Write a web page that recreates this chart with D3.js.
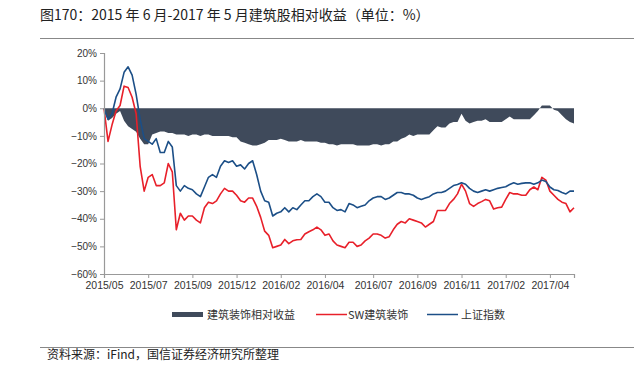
<!DOCTYPE html>
<html>
<head>
<meta charset="utf-8">
<script src="https://cdn.jsdelivr.net/npm/d3@7"></script>
<style>
  html, body { margin: 0; padding: 0; background: #fff; }
  svg { display: block; }
</style>
</head>
<body>
<svg id="chart" width="634" height="367"></svg>
<script>
// ---------------- DATA ----------------
const titleText = "图170：2015 年 6 月-2017 年 5 月建筑股相对收益（单位：%）";
const sourceText = "资料来源：iFind，国信证券经济研究所整理";
const seriesNames = ["建筑装饰相对收益", "SW建筑装饰", "上证指数"];
const xTickLabels = ["2015/05","2015/07","2015/09","2015/12","2016/02","2016/04","2016/07","2016/09","2016/11","2017/02","2017/04"];
const xTickIndex = [0, 11, 22, 33, 44, 55, 67, 78, 89, 100, 111];
const yTickValues = [20, 10, 0, -10, -20, -30, -40, -50, -60];

// 上证指数 cumulative return (%)
const shIndex = [
  0, -4, -2, 4, 7, 13, 15, 12, 5, -4,
  -11, -12, -13, -11, -16, -16, -12, -14, -28, -30,
  -28, -29, -29.5, -31, -32, -28.5, -25, -24, -25, -21,
  -19, -19.6, -19, -21, -20.5, -22, -20, -19, -24, -30,
  -33.5, -34, -39, -38, -37.5, -36, -37.5, -36, -36.7, -35,
  -33.5, -33.5, -32, -31, -32, -34, -34, -36, -37, -36.7,
  -37.5, -34.5, -35, -36, -35.5, -35, -33.5, -32.5, -32, -32,
  -33, -32.5, -31.5, -30.5, -30.5, -31, -31, -31.5, -32.5, -33,
  -32.5, -32, -31, -30.5, -30.5, -30, -29, -28, -27.6, -27,
  -27.5, -29, -30, -30.5, -30, -29.5, -30, -29.5, -29, -28.7,
  -28.4, -27.6, -27, -27.5, -27.2, -27, -27, -27.5, -27, -26,
  -26.5, -28.5, -29.5, -29.8, -30.5, -31, -30, -30
];

// SW建筑装饰 cumulative return (%)
const swBuild = [
  0, -12, -6, -1, 1, 8, 7.5, 4, -2, -21,
  -30, -25, -24, -28, -28, -27, -20, -23, -44, -38,
  -40.5, -39, -39, -40.5, -41.5, -36, -34, -34.5, -33.5, -31,
  -29, -30, -30, -31.5, -33.5, -34, -32.5, -32.5, -35.5, -39.5,
  -44.5, -46, -50.5, -50, -49.5, -47.5, -49, -48, -47.6, -47.5,
  -45.5, -44.7, -44, -43, -44, -46, -45.5, -48, -49.5, -50,
  -50.5, -48.5, -48.5, -50, -49.5, -48, -47, -45.5, -45.5, -46,
  -47, -46.5, -44, -42, -41, -41.5, -40, -40.5, -41, -41.5,
  -43, -42, -41, -37, -37, -37, -34.5, -33, -31, -27.5,
  -30, -34.5, -35.5, -34.5, -33.8, -33, -33.5, -36.5, -36, -35.8,
  -33, -30.5, -31, -31, -31.5, -31.5, -29.5, -28.5, -29.5, -25,
  -26, -30, -31.5, -33, -34, -34.5, -37.5, -36
];

// 建筑装饰相对收益 (%)
const relReturn = [
  -1, -4.5, -3.5, -2, -1, -4.5, -6.5, -7.5, -8.5, -11,
  -13, -13, -9.5, -9, -8.4, -8.4, -9, -9, -9.5, -9.5,
  -9.5, -10, -9.5, -9.5, -10, -9.5, -9.5, -10, -10, -10,
  -10, -10, -10.5, -10.5, -12, -12.5, -13, -13.5, -13.5, -13,
  -12.5, -11.5, -11.5, -11.5, -11, -11.5, -12, -12, -12, -11.5,
  -12, -12, -12, -12, -12.5, -12.5, -13, -13, -13.5, -13,
  -13, -13, -13, -13.5, -13.5, -13.5, -13.5, -13, -13, -13.5,
  -13, -13, -12, -12, -11, -10.5, -9.5, -10, -9.5, -9.5,
  -9.5, -9.5, -8, -6.5, -7, -7, -5.5, -5, -5, -2,
  -4.5, -5.5, -5, -4.5, -4.5, -4, -5, -5, -5, -5,
  -4, -3, -4, -4, -4, -4, -4, -2.5, -1, 1,
  1, 1, -0.5, -1, -2.5, -4, -5, -5.5
];

// ---------------- DRAW ----------------
const colors = { area: "#3f4a5b", red: "#e8202a", blue: "#1c4f87", axis: "#999999", text: "#333333" };
const svg = d3.select("#chart");
const N = shIndex.length;

const x = d3.scaleLinear().domain([0, N - 1]).range([104, 574]);
const y = d3.scaleLinear().domain([-60, 20]).range([274, 53]);

// Title
svg.append("text")
  .attr("x", 40).attr("y", 20)
  .attr("font-family", "'Noto Sans CJK SC', sans-serif")
  .attr("font-size", 14).attr("fill", "#222")
  .text(titleText);
svg.append("line")
  .attr("x1", 40).attr("x2", 634).attr("y1", 38.5).attr("y2", 38.5)
  .attr("stroke", "#888").attr("stroke-width", 1);

// Relative area
const area = d3.area()
  .x((d, i) => x(i))
  .y0(y(0))
  .y1(d => y(d));
svg.append("path")
  .datum(relReturn)
  .attr("d", area)
  .attr("fill", colors.area);

// Lines
const line = d3.line().x((d, i) => x(i)).y(d => y(d));
svg.append("path").datum(swBuild).attr("d", line)
  .attr("fill", "none").attr("stroke", colors.red).attr("stroke-width", 1.6).attr("stroke-linejoin", "round");
svg.append("path").datum(shIndex).attr("d", line)
  .attr("fill", "none").attr("stroke", colors.blue).attr("stroke-width", 1.6).attr("stroke-linejoin", "round");

// Y axis
const yAxis = d3.axisLeft(y).tickValues(yTickValues).tickSize(4).tickPadding(3)
  .tickFormat(d => (d < 0 ? "\u2212" + Math.abs(d) : d) + "%");
const yG = svg.append("g").attr("transform", `translate(${x(0)},0)`).call(yAxis);
yG.select(".domain").attr("stroke", colors.axis).attr("stroke-width", 1.2);
yG.selectAll(".tick line").attr("stroke", colors.axis);
yG.selectAll(".tick text").attr("fill", colors.text)
  .attr("font-family", "'Liberation Sans', Arial, sans-serif").attr("font-size", 10);

// X axis
const xAxis = d3.axisBottom(x).tickValues(xTickIndex).tickSize(4).tickPadding(4)
  .tickFormat((d, i) => xTickLabels[i]);
const xG = svg.append("g").attr("transform", `translate(0,${y(-60)})`).call(xAxis);
xG.select(".domain").attr("stroke", colors.axis).attr("stroke-width", 1.2);
xG.selectAll(".tick line").attr("stroke", colors.axis);
xG.selectAll(".tick text").attr("fill", colors.text)
  .attr("font-family", "'Liberation Sans', Arial, sans-serif").attr("font-size", 10.5);

// Legend
const legFont = "'Noto Sans CJK SC', sans-serif";
const lg = svg.append("g");
lg.append("rect").attr("x", 172).attr("y", 312).attr("width", 31).attr("height", 5).attr("fill", colors.area);
lg.append("text").attr("x", 207).attr("y", 318.5).attr("font-family", legFont).attr("font-size", 11)
  .attr("fill", colors.text).text(seriesNames[0]);
lg.append("line").attr("x1", 316).attr("x2", 347).attr("y1", 314.5).attr("y2", 314.5)
  .attr("stroke", colors.red).attr("stroke-width", 1.5);
lg.append("text").attr("x", 348).attr("y", 318.5).attr("font-family", legFont).attr("font-size", 11)
  .attr("fill", colors.text).text(seriesNames[1]);
lg.append("line").attr("x1", 427).attr("x2", 458).attr("y1", 314.5).attr("y2", 314.5)
  .attr("stroke", colors.blue).attr("stroke-width", 1.5);
lg.append("text").attr("x", 461).attr("y", 318.5).attr("font-family", legFont).attr("font-size", 11)
  .attr("fill", colors.text).text(seriesNames[2]);

// Bottom rule and source
svg.append("line")
  .attr("x1", 40).attr("x2", 634).attr("y1", 347.5).attr("y2", 347.5)
  .attr("stroke", "#888").attr("stroke-width", 1);
svg.append("text")
  .attr("x", 47).attr("y", 359)
  .attr("font-family", "'Noto Sans CJK SC', sans-serif")
  .attr("font-size", 12).attr("fill", "#222")
  .text(sourceText);
</script>
</body>
</html>
